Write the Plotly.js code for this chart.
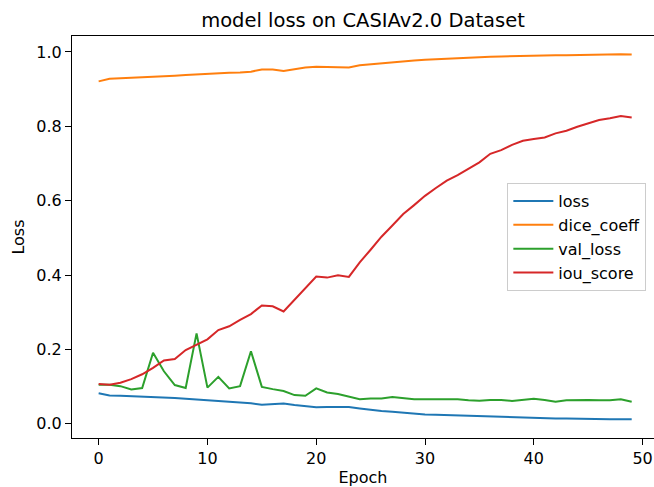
<!DOCTYPE html>
<html>
<head>
<meta charset="utf-8">
<script src="https://cdn.plot.ly/plotly-3.0.1.min.js"></script>
<style>html,body{margin:0;padding:0;background:#fff;overflow:hidden}#chart{width:654px;height:487px}</style>
</head>
<body>
<div id="chart"></div>
<script>
const epochs = Array.from({length: 50}, (_, i) => i);
const loss = [0.082,0.076,0.075,0.074,0.072,0.071,0.070,0.069,0.067,0.065,
              0.063,0.062,0.060,0.058,0.055,0.051,0.052,0.054,0.050,0.047,
              0.044,0.045,0.044,0.045,0.041,0.037,0.034,0.032,0.029,0.027,
              0.025,0.024,0.023,0.022,0.021,0.019,0.018,0.017,0.016,0.016,
              0.015,0.015,0.014,0.014,0.013,0.013,0.013,0.012,0.012,0.012];
const diceCoeff = [0.921,0.928,0.929,0.930,0.932,0.933,0.934,0.936,0.938,0.940,
                   0.941,0.942,0.944,0.945,0.947,0.953,0.953,0.949,0.954,0.958,
                   0.960,0.959,0.959,0.958,0.964,0.967,0.970,0.972,0.975,0.977,
                   0.979,0.980,0.982,0.983,0.985,0.986,0.987,0.988,0.989,0.989,
                   0.990,0.990,0.991,0.991,0.992,0.992,0.993,0.993,0.994,0.993];
const valLoss = [0.105,0.105,0.101,0.092,0.096,0.191,0.141,0.104,0.096,0.243,
                 0.097,0.126,0.095,0.101,0.195,0.099,0.093,0.088,0.077,0.075,
                 0.095,0.084,0.080,0.074,0.066,0.068,0.068,0.072,0.069,0.066,
                 0.066,0.066,0.065,0.066,0.063,0.062,0.064,0.064,0.061,0.064,
                 0.067,0.064,0.059,0.063,0.064,0.064,0.063,0.063,0.066,0.059];
const iouScore = [0.107,0.105,0.110,0.120,0.133,0.150,0.170,0.174,0.198,0.212,
                  0.227,0.252,0.262,0.279,0.295,0.318,0.316,0.302,0.333,0.364,
                  0.396,0.393,0.399,0.395,0.434,0.468,0.503,0.533,0.564,0.588,
                  0.613,0.634,0.654,0.669,0.687,0.703,0.726,0.736,0.750,0.761,
                  0.766,0.770,0.781,0.788,0.799,0.808,0.817,0.822,0.828,0.824];
const seriesNames = ['loss', 'dice_coeff', 'val_loss', 'iou_score'];
const seriesData = [loss, diceCoeff, valLoss, iouScore];
const colors = ['#1f77b4', '#ff7f0e', '#2ca02c', '#d62728'];
const xTicks = [0, 10, 20, 30, 40, 50];
const yTicks = [0.0, 0.2, 0.4, 0.6, 0.8, 1.0];

const font = 'DejaVu Sans, sans-serif';
const fs = 16;
const traces = seriesNames.map((n, k) => ({
  x: epochs, y: seriesData[k], name: n, type: 'scatter', mode: 'lines',
  line: {color: colors[k], width: 2}
}));

const layout = {
  width: 654, height: 487,
  margin: {l: 72, r: 0, t: 36, b: 49},
  paper_bgcolor: '#fff', plot_bgcolor: '#fff',
  font: {family: font, size: fs, color: '#000'},
  title: {text: 'model loss on CASIAv2.0 Dataset', font: {family: font, size: 19.5, color: '#000'},
          x: 0.5, xref: 'paper', xanchor: 'center', y: 0.958, yref: 'container', yanchor: 'middle'},
  xaxis: {range: [-2.45, 51.05], tickvals: xTicks, ticktext: xTicks.map(String),
          showgrid: false, zeroline: false, showline: true, linecolor: '#000', linewidth: 1,
          mirror: true, ticks: 'outside', ticklen: 6, tickcolor: '#000', tickwidth: 1,
          tickfont: {family: font, size: fs},
          title: {text: 'Epoch', font: {family: font, size: fs}, standoff: 4}},
  yaxis: {range: [-0.0385, 1.043], tickvals: yTicks, ticktext: yTicks.map(v => v.toFixed(1)),
          showgrid: false, zeroline: false, showline: true, linecolor: '#000', linewidth: 1,
          mirror: false, ticks: 'outside', ticklen: 6, tickcolor: '#000', tickwidth: 1,
          tickfont: {family: font, size: fs},
          title: {text: 'Loss', font: {family: font, size: fs}, standoff: 7}},
  legend: {x: 0.748, y: 0.634, xanchor: 'left', yanchor: 'top', itemwidth: 40,
           bgcolor: 'rgba(255,255,255,0.8)', bordercolor: '#cccccc', borderwidth: 1,
           font: {family: font, size: fs}, tracegroupgap: 0},
  showlegend: true
};
Plotly.newPlot('chart', traces, layout, {staticPlot: true, displayModeBar: false});
</script>
</body>
</html>
